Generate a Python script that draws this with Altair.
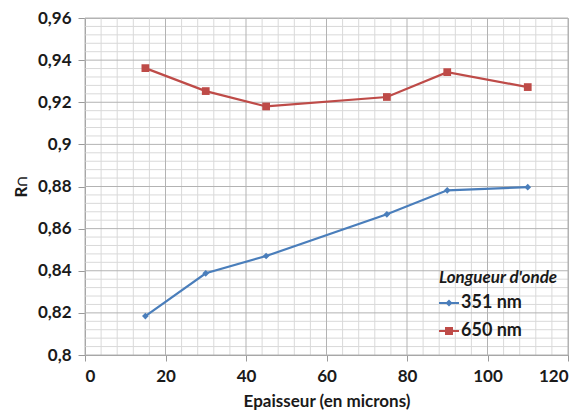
import altair as alt
import pandas as pd

# ---- data ----
epaisseur = [15, 30, 45, 75, 90, 110]
r_351 = [0.8185, 0.8388, 0.8470, 0.8668, 0.8782, 0.8797]
r_650 = [0.9362, 0.9253, 0.9180, 0.9225, 0.9343, 0.9272]
series_names = ["351 nm", "650 nm"]
series_colors = ["#4A7EBB", "#BE4B48"]

x_major = [0, 20, 40, 60, 80, 100, 120]
y_major = [0.80, 0.82, 0.84, 0.86, 0.88, 0.90, 0.92, 0.94, 0.96]
x_minor = [i * 4 for i in range(31) if i % 5 != 0]
y_minor = [round(0.8 + i * 0.004, 3) for i in range(41) if i % 5 != 0]

df = pd.DataFrame({
    "x": epaisseur * 2,
    "r": r_351 + r_650,
    "series": [series_names[0]] * len(epaisseur) + [series_names[1]] * len(epaisseur),
})

FONT = "Lato"
FS = 17
xscale = alt.Scale(domain=[0, 120], nice=False, zero=False)
yscale = alt.Scale(domain=[0.8, 0.96], nice=False, zero=False)
cscale = alt.Scale(domain=series_names, range=series_colors)

# legend symbols: a short line with a marker in the middle
sym_351 = "M-1,-0.1H1V0.1H-1Z M-0.35,0L0,-0.35L0.35,0L0,0.35Z"
sym_650 = "M-1,-0.1H1V0.1H-1Z M-0.4,-0.4H0.4V0.4H-0.4Z"

xaxis = alt.Axis(values=x_major, format="d", grid=False, domainColor="#9a9a9a",
                 tickColor="#9a9a9a", tickSize=6, labelFont=FONT, labelFontSize=FS,
                 labelFontWeight="bold", labelColor="#1a1a1a", labelPadding=7,
                 title="Epaisseur (en microns)", titleFont=FONT, titleFontSize=FS,
                 titleFontWeight="bold", titleColor="#1a1a1a", titlePadding=9)
yaxis = alt.Axis(values=y_major, grid=False, domainColor="#9a9a9a",
                 tickColor="#9a9a9a", tickSize=7,
                 labelExpr="replace(format(datum.value, '.2~f'), '.', ',')",
                 labelFont=FONT, labelFontSize=FS, labelFontWeight="bold",
                 labelColor="#1a1a1a", labelPadding=7,
                 title="R∩", titleFont=FONT, titleFontSize=FS, titleFontWeight="bold",
                 titleColor="#1a1a1a", titlePadding=7)

leg = alt.Legend(title="Longueur d'onde", orient="none", legendX=354, legendY=252,
                 titleFont=FONT, titleFontSize=FS, titleFontWeight="bold",
                 titleFontStyle="italic", titleColor="#1a1a1a", titlePadding=6,
                 labelFont=FONT, labelFontSize=18, labelFontWeight="bold",
                 labelColor="#1a1a1a", labelOffset=2, symbolSize=400,
                 symbolStrokeWidth=0, rowPadding=9, padding=0)


def X(field):
    return alt.X(field, scale=xscale, axis=xaxis)


def Y(field):
    return alt.Y(field, scale=yscale, axis=yaxis)


def C():
    return alt.Color("series:N", scale=cscale, legend=leg)


minor_x = alt.Chart(pd.DataFrame({"gx": x_minor})).mark_rule(
    color="#d9d9d9", strokeWidth=1).encode(x=X("gx:Q"))
minor_y = alt.Chart(pd.DataFrame({"gy": y_minor})).mark_rule(
    color="#d9d9d9", strokeWidth=1).encode(y=Y("gy:Q"))
major_x = alt.Chart(pd.DataFrame({"gx": x_major})).mark_rule(
    color="#b3b3b3", strokeWidth=1).encode(x=X("gx:Q"))
major_y = alt.Chart(pd.DataFrame({"gy": y_major})).mark_rule(
    color="#b3b3b3", strokeWidth=1).encode(y=Y("gy:Q"))

base = alt.Chart(df)

lines = base.mark_line(strokeWidth=2.2).encode(
    x=X("x:Q"), y=Y("r:Q"), color=C(), detail="series:N",
)

pts_351 = base.transform_filter(alt.datum.series == series_names[0]).mark_point(
    shape="diamond", filled=True, size=45, opacity=1).encode(
    x=X("x:Q"), y=Y("r:Q"), color=C(),
)
pts_650 = base.transform_filter(alt.datum.series == series_names[1]).mark_point(
    shape="square", filled=True, size=60, opacity=1).encode(
    x=X("x:Q"), y=Y("r:Q"), color=C(),
)

legend_layer = base.mark_point(filled=True, opacity=0).encode(
    x=X("x:Q"), y=Y("r:Q"), color=C(),
    shape=alt.Shape("series:N", scale=alt.Scale(domain=series_names, range=[sym_351, sym_650]),
                    legend=leg),
)

chart = alt.layer(minor_x, minor_y, major_x, major_y, lines, pts_351, pts_650, legend_layer).properties(
    width=483, height=337,
    autosize=alt.AutoSizeParams(type="none"),
    padding={"left": 77, "top": 10, "right": 6, "bottom": 58},
    background="white",
).configure_view(stroke="#b3b3b3", strokeWidth=1)

chart.save("out.html", embed_options={"renderer": "svg", "actions": False})
